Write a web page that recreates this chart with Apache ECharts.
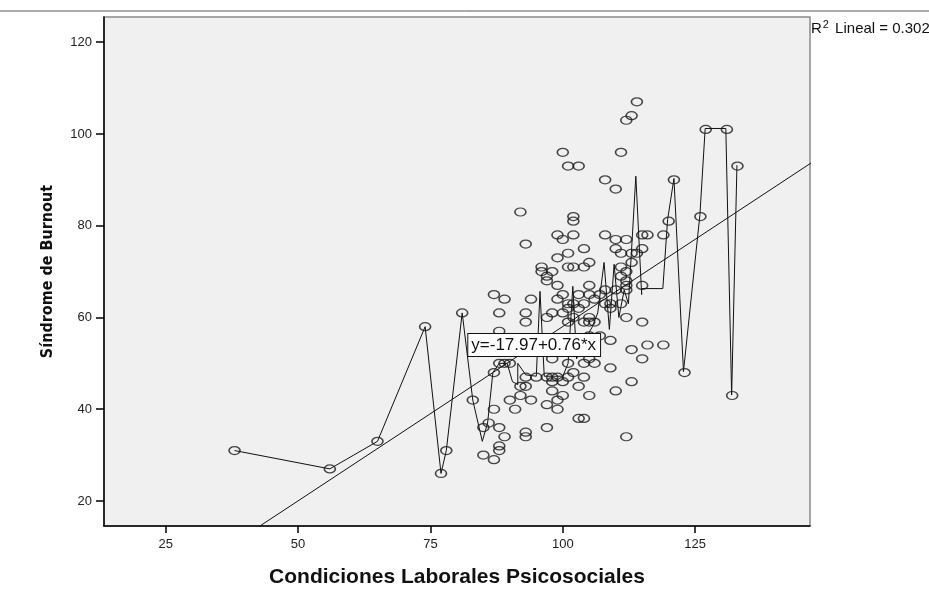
<!DOCTYPE html>
<html>
<head>
<meta charset="utf-8">
<script src="https://cdn.jsdelivr.net/npm/echarts@6/dist/echarts.min.js"></script>
<style>
  html, body { margin: 0; padding: 0; background: #fff; }
  #chart { width: 929px; height: 590px; }
</style>
</head>
<body>
<div id="chart"></div>
<script>
// ejes
const xTicks = [25, 50, 75, 100, 125]
const yTicks = [20, 40, 60, 80, 100, 120]

// recta de regresion (y = a + b*x)
const fitIntercept = -17.97
const fitSlope = 0.76
const fitLabel = 'y=-17.97+0.76*x'
const r2Value = '0.302'

// casos: [condiciones laborales, burnout]
const casos = [
  [38, 31], [56, 27], [65, 33], [74, 58], [77, 26], [78, 31], [81, 61], [83, 42],
  [85, 36], [85, 30], [86, 37], [87, 29], [87, 40], [88, 36], [89, 34], [88, 32],
  [88, 31], [87, 48], [88, 50], [89, 50], [90, 50], [87, 65], [89, 64], [88, 61],
  [88, 57], [90, 42], [91, 40], [92, 43], [93, 45], [94, 42], [92, 45], [93, 35],
  [93, 34], [97, 36], [97, 41], [98, 44], [99, 42], [100, 43], [99, 40], [103, 38],
  [104, 38], [103, 45], [105, 43], [110, 44], [112, 34], [113, 46], [132, 43],
  [92, 83], [93, 76], [94, 64], [93, 61], [93, 59], [93, 47], [95, 47], [97, 47],
  [98, 47], [99, 47], [101, 47], [98, 46], [100, 46], [101, 50], [104, 50], [105, 51],
  [106, 50], [102, 48], [98, 51], [104, 47], [109, 49], [107, 56], [105, 56], [109, 55],
  [113, 53], [116, 54], [119, 54], [115, 51], [123, 48],
  [98, 61], [100, 61], [101, 62], [99, 64], [101, 63], [102, 63], [104, 63], [106, 64],
  [109, 63], [108, 63], [111, 63], [109, 62], [103, 62], [105, 60], [105, 59], [102, 60],
  [101, 59], [104, 59], [106, 59], [97, 60], [100, 65], [103, 65], [105, 65], [107, 65],
  [108, 66], [110, 66], [112, 66], [112, 67], [115, 67], [99, 67], [105, 67], [112, 60],
  [115, 59],
  [96, 71], [97, 69], [98, 70], [97, 68], [96, 70], [99, 73], [101, 74], [104, 75],
  [101, 71], [102, 71], [104, 71], [105, 72], [111, 71], [112, 70], [111, 69], [112, 68],
  [113, 72], [110, 75], [111, 74], [113, 74], [114, 74], [115, 75], [99, 78], [100, 77],
  [102, 78], [102, 82], [102, 81], [108, 78], [110, 77], [112, 77], [115, 78], [116, 78],
  [119, 78], [120, 81], [126, 82],
  [100, 96], [101, 93], [103, 93], [108, 90], [110, 88], [111, 96], [112, 103], [113, 104],
  [114, 107], [121, 90], [127, 101], [131, 101], [133, 93]
]

// linea de interpolacion
const interpX = [38, 56, 65, 74, 77, 78, 81, 83, 84.8, 85.8, 86.8, 88, 89.5, 90.5, 91.5, 91.5, 93, 95, 95.7, 96.5,
  100, 101, 101.9, 102.6, 103.8, 104.6, 105.6, 106.6, 107.8, 108.8, 109.7, 110.6, 111.6, 112.4, 113.8, 114.9, 114.9,
  118.9, 119.8, 121, 122.8, 125.9, 126.9, 130.8, 131.9, 132.9]
const interpY = [31, 27, 33, 58, 26, 31, 61, 42, 33, 37, 48, 50, 50, 46, 45.4, 50, 47.5, 47.2, 65.7, 47.2,
  47.2, 50, 66.8, 51, 54, 56, 58, 61, 72, 57.4, 71.6, 60, 66, 63, 90.8, 65, 66.3,
  66.3, 81.3, 90.3, 48.2, 82.3, 101.2, 101.2, 43.1, 93.2]

const chart = echarts.init(document.getElementById('chart'))
const font = "'Liberation Sans', Arial, sans-serif"

chart.setOption({
  backgroundColor: '#fff',
  animation: false,
  grid: {
    left: 104,
    top: 17,
    width: 706,
    height: 509,
    outerBoundsMode: 'none',
    containLabel: false,
    show: true,
    backgroundColor: '#f0f0f0',
    borderColor: '#8a8a8a',
    borderWidth: 1.5
  },
  xAxis: {
    type: 'value',
    min: 13.34,
    max: 146.7,
    name: 'Condiciones Laborales Psicosociales',
    nameLocation: 'middle',
    nameGap: 41,
    nameTextStyle: { fontFamily: font, fontWeight: 'bold', fontSize: 21, color: '#111' },
    splitLine: { show: false },
    axisLine: { show: true, lineStyle: { color: '#000', width: 1.5 } },
    axisTick: { show: true, length: 7, customValues: xTicks, lineStyle: { color: '#000', width: 1.5 } },
    axisLabel: { customValues: xTicks, margin: 12, fontFamily: font, fontSize: 13, color: '#222' }
  },
  yAxis: {
    type: 'value',
    min: 14.55,
    max: 125.5,
    name: 'Síndrome de Burnout',
    nameLocation: 'middle',
    nameGap: 48,
    nameRotate: 90,
    nameTextStyle: {
      fontFamily: "'Liberation Sans Narrow', 'Arial Narrow', 'DejaVu Sans Condensed', sans-serif",
      fontWeight: 'bold', fontSize: 16, color: '#111'
    },
    splitLine: { show: false },
    axisLine: { show: true, lineStyle: { color: '#000', width: 1.5 } },
    axisTick: { show: true, length: 8, customValues: yTicks, lineStyle: { color: '#000', width: 1.5 } },
    axisLabel: { customValues: yTicks, margin: 12, fontFamily: font, fontSize: 13, color: '#222' }
  },
  graphic: [
    { type: 'line', shape: { x1: 0, y1: 11, x2: 929, y2: 11 }, style: { stroke: '#555', lineWidth: 1 } },
    {
      type: 'text',
      left: 811,
      top: 19,
      style: {
        text: '{r|R}{s|2}{r| Lineal = ' + r2Value + '}',
        rich: {
          r: { fontFamily: font, fontSize: 15, fill: '#111', verticalAlign: 'bottom', lineHeight: 17 },
          s: { fontFamily: font, fontSize: 11, fill: '#111', verticalAlign: 'top', lineHeight: 17, padding: [0, 2, 6, 1] }
        }
      }
    }
  ],
  series: [
    {
      type: 'line',
      data: interpX.map((x, i) => [x, interpY[i]]),
      symbol: 'none',
      lineStyle: { color: '#111', width: 1 },
      z: 2
    },
    {
      type: 'line',
      data: [[0, fitIntercept], [160, fitIntercept + fitSlope * 160]],
      symbol: 'none',
      clip: true,
      lineStyle: { color: '#111', width: 1 },
      markPoint: {
        symbol: 'rect',
        symbolSize: 1,
        itemStyle: { color: 'transparent' },
        data: [{
          coord: [94.6, 54],
          label: {
            show: true,
            position: 'inside',
            formatter: fitLabel,
            fontFamily: font,
            fontSize: 17,
            color: '#111',
            backgroundColor: '#fff',
            borderColor: '#111',
            borderWidth: 1,
            padding: [3, 4, 2, 3]
          }
        }]
      },
      z: 3
    },
    {
      type: 'scatter',
      data: casos,
      symbol: 'circle',
      symbolSize: [11, 8],
      itemStyle: { color: 'rgba(0,0,0,0)', borderColor: '#1a1a1a', borderWidth: 1.4 },
      z: 4
    }
  ]
})
</script>
</body>
</html>
